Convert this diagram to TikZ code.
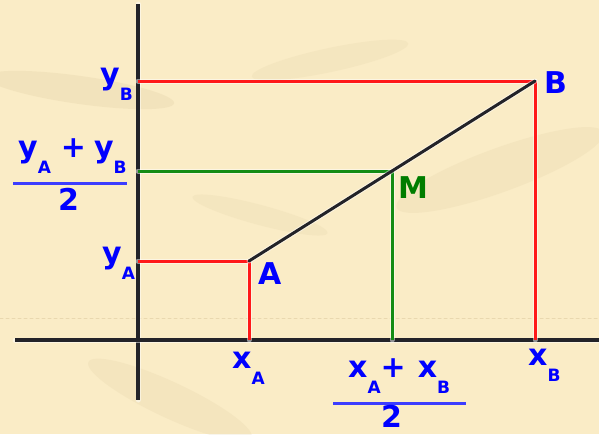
\documentclass[tikz,border=0pt]{standalone}
\usepackage{fontspec}
\setmainfont{DejaVu Sans}
\usetikzlibrary{calc}
\definecolor{paper}{RGB}{250,236,198}
\definecolor{crease}{RGB}{222,204,160}
\definecolor{lblue}{RGB}{0,0,255}
\definecolor{barblue}{RGB}{60,60,255}
\definecolor{lred}{RGB}{255,25,25}
\definecolor{lgreen}{RGB}{20,140,20}
\definecolor{mgreen}{RGB}{0,125,0}
\definecolor{axisgray}{RGB}{35,35,40}
\newcommand{\sub}[1]{\raisebox{-16pt}{\fontsize{17}{17}\selectfont #1}}
\tikzset{
  lbl/.style={font=\fontsize{30}{30}\selectfont\bfseries,text=lblue,inner sep=0pt},
  halo/.style={preaction={draw=white,line width=5pt,opacity=.5}},
  fracbar/.style={draw=barblue,line width=3pt,line cap=butt}
}
\begin{document}
\begin{tikzpicture}[line cap=round,line join=round,x=1pt,y=-1pt]
\useasboundingbox (0,0) rectangle (599,434);
% paper background
\fill[paper] (0,0) rectangle (599,434);
\fill[crease,opacity=.25,rotate around={-8:(80,90)}] (80,90) ellipse (95 and 14);
\fill[crease,opacity=.2,rotate around={20:(500,170)}] (500,170) ellipse (110 and 22);
\fill[crease,opacity=.2,rotate around={-25:(170,400)}] (170,400) ellipse (90 and 18);
\fill[crease,opacity=.18,rotate around={12:(330,60)}] (330,60) ellipse (80 and 12);
\fill[crease,opacity=.18,rotate around={-15:(260,215)}] (260,215) ellipse (70 and 10);
\draw[crease,opacity=.6,dashed,line width=1pt] (0,318) -- (599,318);

\coordinate (O) at (138,340);
\coordinate (yTop) at (138,4);
\coordinate (yBot) at (138,400);
\coordinate (xL) at (15,340);
\coordinate (xR) at (599,340);
\coordinate (A) at (249,261);
\coordinate (B) at (535,81);
\coordinate (M) at ($(A)!.5!(B)$);

% axes
\draw [halo,color=axisgray,line width=3.5pt,line cap=butt] (yTop) -- (yBot);
\draw [halo,color=axisgray,line width=3.5pt,line cap=butt] (xL) -- (xR);

% projections
\draw [halo,color=lred,line width=3pt,line cap=butt] (O |- B) -- (B) -- (B |- O);
\draw [halo,color=lred,line width=3pt,line cap=butt] (O |- A) -- (A) -- (A |- O);
\draw [halo,color=lgreen,line width=3pt,line cap=butt] (O |- M) -- (M) -- (M |- O);

% segment AB
\draw [halo,color=axisgray,line width=3pt] (A) -- (B);

% labels
\node[lbl,anchor=base west] (lyB) at (100,84) {y\sub{B}};
\node[lbl,anchor=base west] (lyA) at (102,263) {y\sub{A}};
\node[lbl,anchor=base west] (nyfrac) at (18,157) {y\sub{A}\hspace{10pt}+\hspace{8pt}y\sub{B}};
\coordinate (bar1L) at (13,183);
\coordinate (bar1R) at (127,183);
\draw [fracbar] (bar1L) -- (bar1R);
\node[lbl,anchor=base,text depth=0pt] (dy) at (68.5,210) {2};

\node[lbl,anchor=base west] (lA) at (258,284) {A};
\node[lbl,anchor=base west] (lB) at (544,93) {B};
\node[lbl,anchor=base west,text=mgreen] (lM) at (398,198) {M};

\node[lbl,anchor=base west] (lxA) at (232,368) {x\sub{A}};
\node[lbl,anchor=base west] (lxB) at (528,365) {x\sub{B}};
\node[lbl,anchor=base west] (nxfrac) at (348,377) {x\sub{A}+\hspace{12pt}x\sub{B}};
\coordinate (bar2L) at (333,403);
\coordinate (bar2R) at (466,403);
\draw [fracbar] (bar2L) -- (bar2R);
\node[lbl,anchor=base,text depth=0pt] (dx) at (391.5,427) {2};
\end{tikzpicture}
\end{document}
